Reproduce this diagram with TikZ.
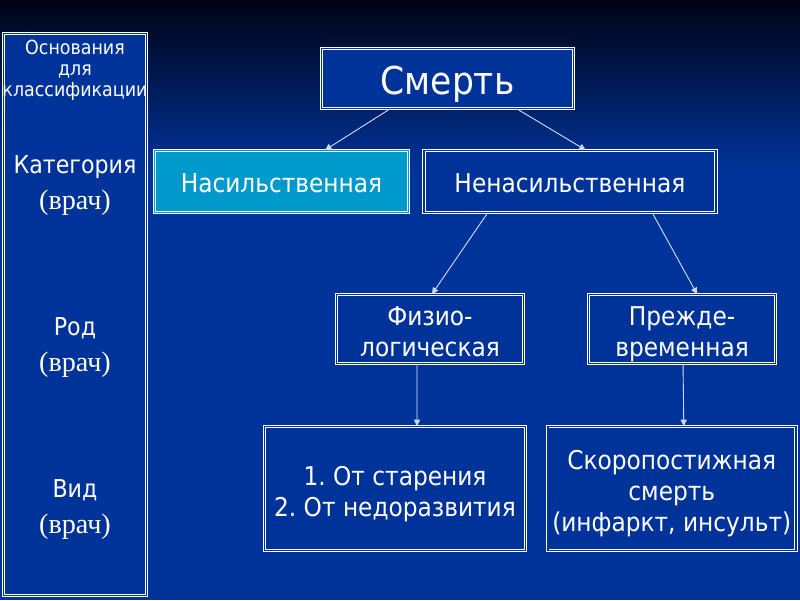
\documentclass[tikz,border=0pt]{standalone}
\usepackage{fontspec}
\setmainfont{DejaVu Sans Condensed}
\newfontfamily\notefont{Liberation Serif}
\frenchspacing
\usetikzlibrary{arrows.meta, positioning, calc}
\definecolor{bgblue}{RGB}{0,51,153}
\definecolor{bgtop}{RGB}{0,2,20}
\definecolor{violcyan}{RGB}{0,153,204}
\definecolor{linkgray}{RGB}{205,216,245}
\newcommand{\hiline}{\rule{0pt}{22pt}}
\newcommand{\loline}{\rule[-4.8pt]{0pt}{4.8pt}}
\tikzstyle{catbox} = [draw=white, line width=0.7pt, double=bgblue, double distance=1.1pt, fill=bgblue, text=white, align=center, inner sep=0pt, font=\fontsize{18.4}{22}\selectfont]
\tikzstyle{violentbox} = [catbox, fill=violcyan, double=violcyan]
\tikzstyle{arrow} = [-{Triangle[length=4.5pt, width=4.5pt]}, draw=linkgray, fill=linkgray, line width=0.65pt]
\tikzstyle{sidetext} = [text=white, inner sep=0pt, anchor=base, font=\fontsize{17.5}{20}\selectfont]
\tikzstyle{sidenote} = [text=white, inner sep=0pt, anchor=base, font=\notefont\fontsize{20}{22}\selectfont]

\begin{document}
\begin{tikzpicture}[x=0.025cm, y=-0.025cm]
    % background
    \fill [bgblue] (0,0) rectangle (800,600);
    \shade [top color=bgtop, bottom color=bgblue] (0,0) rectangle (800,170);
    \useasboundingbox (0,0) rectangle (800,600);

    % left column
    \node (osnovania) [catbox, minimum width=3.575cm, minimum height=14.05cm] at (75,314.5) {};
    \node (osnTitle) [text=white, align=center, inner sep=0pt, font=\fontsize{13.8}{15}\selectfont] at (75,70) {Основания\\для\\классификации};
    \node (kat) [sidetext] at (75,173) {Категория};
    \node (katNote) [sidenote] at (75,209) {(врач)};
    \node (rod) [sidetext] at (75,335) {Род};
    \node (rodNote) [sidenote] at (75,371) {(врач)};
    \node (vid) [sidetext] at (75,497) {Вид};
    \node (vidNote) [sidenote] at (75,533) {(врач)};

    % tree
    \node (smert) [catbox, minimum width=6.3cm, minimum height=1.5cm, text height=23.4pt, text depth=0pt, font=\fontsize{27.3}{30}\selectfont] at (447.5,78.5) {Смерть};
    \node (nasil) [violentbox, minimum width=6.35cm, minimum height=1.55cm, text height=16.3pt, text depth=0pt] at (281.5,181.5) {Насильственная};
    \node (nenasil) [catbox, minimum width=7.3cm, minimum height=1.55cm, text height=16.3pt, text depth=0pt, right=0.36cm of nasil] {Ненасильственная};
    \node (fizio) [catbox, minimum width=4.675cm, minimum height=1.725cm] at (430,329) {\hiline Физио-\\\loline логическая};
    \node (prezhde) [catbox, minimum width=4.675cm, minimum height=1.725cm, right=1.6cm of fizio] {\hiline Прежде-\\\loline временная};
    \node (starenie) [catbox, minimum width=6.525cm, minimum height=3.1cm] at (395,488.5) {\hiline 1. От старения\\\loline 2. От недоразвития};
    \node (skoro) [catbox, minimum width=6.2cm, minimum height=3.1cm, right=0.53cm of starenie] {\hiline Скоропостижная\\смерть\\\loline (инфаркт, инсульт)};

    \draw [arrow] ([xshift=-1.44cm]smert.south) -- ([xshift=1.09cm]nasil.north);
    \draw [arrow] ([xshift=1.74cm]smert.south) -- ([xshift=0.39cm]nenasil.north);
    \draw [arrow] ([xshift=-2.06cm]nenasil.south) -- ([xshift=0.05cm]fizio.north);
    \draw [arrow] ([xshift=2.06cm]nenasil.south) -- ([xshift=0.375cm]prezhde.north);
    \draw [arrow] ([xshift=-0.325cm]fizio.south) -- ([xshift=0.55cm]starenie.north);
    \draw [arrow] ([xshift=0.025cm]prezhde.south) -- ([xshift=0.3cm]skoro.north);
\end{tikzpicture}
\end{document}
